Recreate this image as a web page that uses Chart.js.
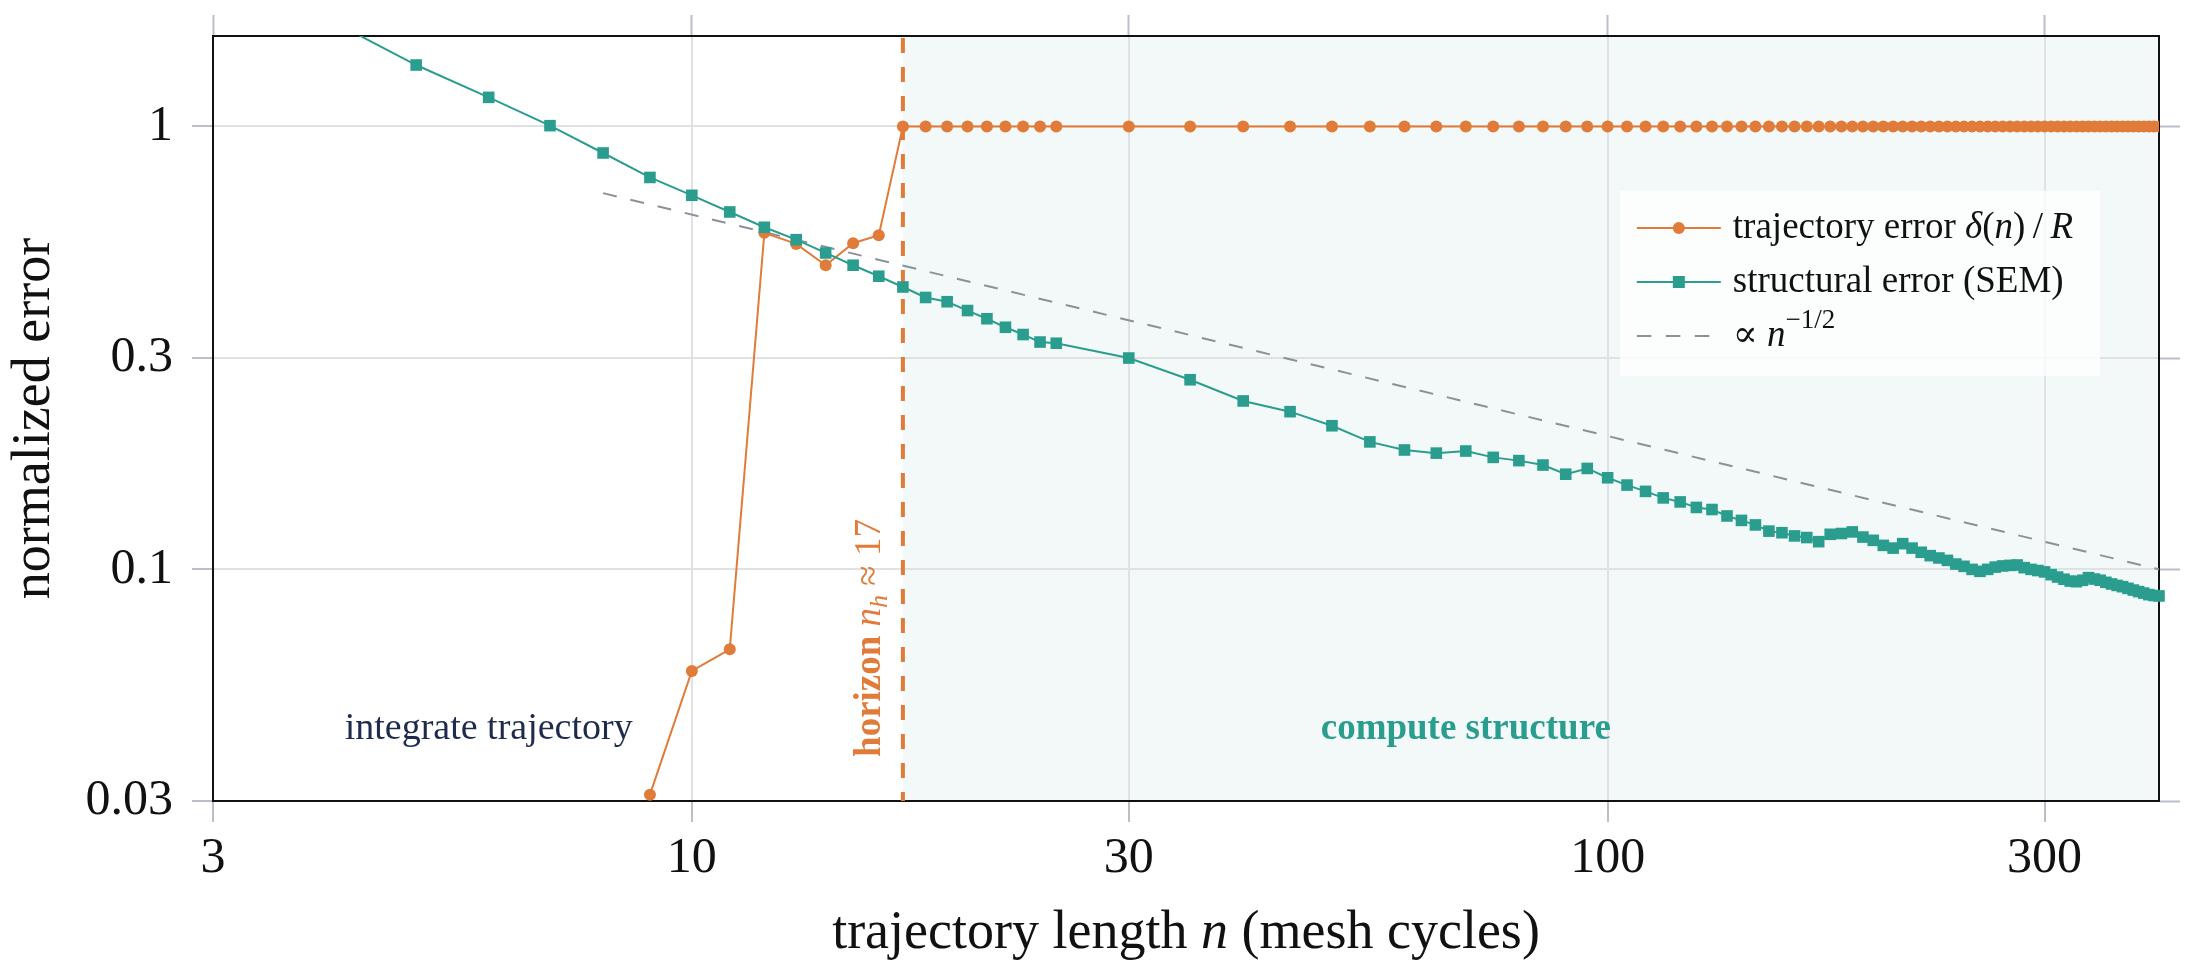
<!DOCTYPE html>
<html>
<head>
<meta charset="utf-8">
<title>trajectory error vs structural error</title>
<script src="https://cdn.jsdelivr.net/npm/chart.js@4.4.1/dist/chart.umd.min.js"></script>
<style>
  html, body { margin: 0; padding: 0; background: #fff; }
  #wrap { position: relative; width: 2195px; height: 976px; }
</style>
</head>
<body>
<div id="wrap"><canvas id="chart"></canvas></div>
<script>
// values
const X_TICKS = [3, 10, 30, 100, 300];
const Y_TICKS = [0.03, 0.1, 0.3, 1];

const TRAJ_N = [9, 10, 11, 12, 13, 14, 15, 16, 17, 18, 19, 20, 21, 22, 23, 24, 25,
    30, 35, 40, 45, 50, 55, 60, 65, 70, 75,
    80, 85, 90, 95, 100, 105, 110, 115, 120, 125,
    130, 135, 140, 145, 150, 155, 160, 165, 170, 175,
    180, 185, 190, 195, 200, 205, 210, 215, 220, 225,
    230, 235, 240, 245, 250, 255, 260, 265, 270, 275,
    280, 285, 290, 295, 300, 305, 310, 315, 320, 325,
    330, 335, 340, 345, 350, 355, 360, 365, 370, 375,
    380, 385, 390, 395, 400];
const TRAJ_ERR = [0.031, 0.059, 0.066, 0.575, 0.543, 0.486, 0.545, 0.568, 1, 1, 1, 1, 1, 1, 1, 1, 1,
    1, 1, 1, 1, 1, 1, 1, 1, 1, 1,
    1, 1, 1, 1, 1, 1, 1, 1, 1, 1,
    1, 1, 1, 1, 1, 1, 1, 1, 1, 1,
    1, 1, 1, 1, 1, 1, 1, 1, 1, 1,
    1, 1, 1, 1, 1, 1, 1, 1, 1, 1,
    1, 1, 1, 1, 1, 1, 1, 1, 1, 1,
    1, 1, 1, 1, 1, 1, 1, 1, 1, 1,
    1, 1, 1, 1, 1];

const SEM_N = [4, 5, 6, 7, 8, 9, 10, 11, 12, 13, 14, 15, 16, 17, 18, 19, 20, 21, 22, 23, 24, 25,
    30, 35, 40, 45, 50, 55, 60, 65, 70, 75,
    80, 85, 90, 95, 100, 105, 110, 115, 120, 125,
    130, 135, 140, 145, 150, 155, 160, 165, 170, 175,
    180, 185, 190, 195, 200, 205, 210, 215, 220, 225,
    230, 235, 240, 245, 250, 255, 260, 265, 270, 275,
    280, 285, 290, 295, 300, 305, 310, 315, 320, 325,
    330, 335, 340, 345, 350, 355, 360, 365, 370, 375,
    380, 385, 390, 395, 400];
const SEM_ERR = [1.75, 1.376, 1.163, 1.004, 0.871, 0.767, 0.699, 0.641, 0.592, 0.555, 0.518,
    0.486, 0.459, 0.434, 0.411, 0.402, 0.384, 0.368, 0.352, 0.339, 0.326, 0.324,
    0.300, 0.268, 0.240, 0.227, 0.211, 0.194, 0.186, 0.183, 0.185, 0.179,
    0.176, 0.172, 0.164, 0.169, 0.161, 0.155, 0.150, 0.145, 0.142, 0.138,
    0.1365, 0.132, 0.129, 0.126, 0.122, 0.121, 0.119, 0.118, 0.1155, 0.120,
    0.1205, 0.1215, 0.1183, 0.1163, 0.1133, 0.1117, 0.1143, 0.1117, 0.1093, 0.1074,
    0.1061, 0.1048, 0.1028, 0.1016, 0.1000, 0.0990, 0.1000, 0.1012, 0.1018, 0.1021,
    0.1023, 0.1009, 0.1000, 0.0994, 0.0987, 0.0973, 0.0961, 0.0950, 0.0941, 0.0938,
    0.0945, 0.0958, 0.0951, 0.0945, 0.0935, 0.0927, 0.0920, 0.0914, 0.0906, 0.0898,
    0.0891, 0.0884, 0.0877, 0.0873, 0.0871];

// guide line ~ n^-1/2, its two ends
const REF_N = [8, 400];
const REF_ERR = [0.707, 0.1];

const HORIZON = 17;

const ORANGE = '#e07b39';
const TEAL = '#2a9d8f';
const GREY = '#8c9099';
const NAVY = '#1f2b4d';
const GRID = '#dfe1e4';
const TICK = '#b9bec7';
const INK = '#111111';
const FONT = '"Liberation Serif", "DejaVu Serif", serif';

const f = (size, style = '', weight = '') => `${style} ${weight} ${size}px ${FONT}`.trim();
const toPoints = (xs, ys) => xs.map((x, i) => ({ x: x, y: ys[i] }));

// draws a run of text pieces with their own fonts, returns total width
function drawRich(ctx, segs, x, y, align) {
    let w = 0;
    segs.forEach(s => { ctx.font = s.f; s.w = ctx.measureText(s.t).width; w += s.w; });
    let cx = align === 'center' ? x - w / 2 : x;
    ctx.textAlign = 'left';
    ctx.textBaseline = 'alphabetic';
    segs.forEach(s => { ctx.font = s.f; ctx.fillText(s.t, cx, y + (s.dy || 0)); cx += s.w; });
    return w;
}

const LEGEND = [
    { color: ORANGE, marker: 'circle', dash: [], segs: [
        { t: 'trajectory error ', f: f(37) }, { t: '\u03B4', f: f(37, 'italic') }, { t: '(', f: f(37) },
        { t: 'n', f: f(37, 'italic') }, { t: ')', f: f(37) }, { t: '\u2009/\u2009', f: f(37) }, { t: 'R', f: f(37, 'italic') }] },
    { color: TEAL, marker: 'rect', dash: [], segs: [{ t: 'structural error (SEM)', f: f(37) }] },
    { color: GREY, marker: null, dash: [14.5, 14.5], segs: [
        { t: '\u221D ', f: f(37) }, { t: 'n', f: f(37, 'italic') }, { t: '\u22121/2', f: f(27), dy: -18 }] }
];

const decorations = {
    id: 'decorations',
    beforeDraw(chart) {
        const { ctx, chartArea: a, scales: { x } } = chart;
        const hx = x.getPixelForValue(HORIZON);
        ctx.save();
        ctx.fillStyle = 'rgba(42,157,143,0.06)';
        ctx.fillRect(hx, a.top, a.right - hx, a.bottom - a.top);
        ctx.restore();
    },
    beforeDatasetsDraw(chart) {
        const { ctx, chartArea: a, scales: { x } } = chart;
        const hx = x.getPixelForValue(HORIZON);
        ctx.save();
        ctx.strokeStyle = ORANGE;
        ctx.lineWidth = 4;
        ctx.setLineDash([15, 14]);
        ctx.beginPath();
        ctx.moveTo(hx, a.top + 2);
        ctx.lineTo(hx, a.bottom);
        ctx.stroke();
        ctx.restore();
    },
    afterDatasetsDraw(chart) {
        const { ctx, scales: { x, y } } = chart;
        const by = y.getPixelForValue(0.0414);
        ctx.save();
        ctx.fillStyle = NAVY;
        drawRich(ctx, [{ t: 'integrate trajectory', f: f(38) }], x.getPixelForValue(6), by, 'center');
        ctx.fillStyle = TEAL;
        drawRich(ctx, [{ t: 'compute structure', f: f(37, '', 'bold') }], x.getPixelForValue(70), by, 'center');

        // rotated horizon label
        ctx.translate(x.getPixelForValue(HORIZON) - 23, y.getPixelForValue(0.07));
        ctx.rotate(-Math.PI / 2);
        ctx.fillStyle = ORANGE;
        drawRich(ctx, [{ t: 'horizon ', f: f(37, '', 'bold') }, { t: 'n', f: f(37, 'italic') },
            { t: 'h', f: f(26, 'italic'), dy: 7 }, { t: ' \u2248 ' + HORIZON, f: f(37) }], 0, 0, 'center');
        ctx.restore();
    },
    afterDraw(chart) {
        const { ctx, chartArea: a } = chart;
        ctx.save();

        // x axis title (italic n)
        ctx.fillStyle = INK;
        drawRich(ctx, [{ t: 'trajectory length ', f: f(54) }, { t: 'n', f: f(54, 'italic') },
            { t: ' (mesh cycles)', f: f(54) }], (a.left + a.right) / 2, chart.height - 28, 'center');

        // legend
        let textW = 0;
        LEGEND.forEach(r => {
            let w = 0;
            r.segs.forEach(s => { ctx.font = s.f; w += ctx.measureText(s.t).width; });
            textW = Math.max(textW, w);
        });
        const padL = 17, lineLen = 84, gap = 12, padR = 27;
        const boxW = padL + lineLen + gap + textW + padR;
        const boxR = a.right - 59, boxT = a.top + 155, boxH = 185;
        const boxL = boxR - boxW;
        ctx.fillStyle = 'rgba(255,255,255,0.8)';
        ctx.fillRect(boxL, boxT, boxW, boxH);

        LEGEND.forEach((r, i) => {
            const ry = boxT + 37 + i * 54;
            const lx = boxL + padL;
            ctx.strokeStyle = r.color;
            ctx.lineWidth = 2;
            ctx.setLineDash(r.dash);
            ctx.beginPath();
            ctx.moveTo(lx, ry);
            ctx.lineTo(lx + lineLen, ry);
            ctx.stroke();
            ctx.setLineDash([]);
            ctx.fillStyle = r.color;
            if (r.marker === 'circle') {
                ctx.beginPath();
                ctx.arc(lx + lineLen / 2, ry, 6, 0, Math.PI * 2);
                ctx.fill();
            } else if (r.marker === 'rect') {
                ctx.fillRect(lx + lineLen / 2 - 6, ry - 6, 12, 12);
            }
            ctx.fillStyle = INK;
            drawRich(ctx, r.segs, lx + lineLen + gap, ry + 10, 'left');
        });
        ctx.restore();
    }
};

const fixedTicks = list => scale => { scale.ticks = list.map(v => ({ value: v })); };
// pin axis sizes so the plot box lands where it does in the figure
const fixH = h => s => { s.height = h; s.paddingLeft = 0; s.paddingRight = 0; };
const fixW = w => s => { s.width = w; s.paddingTop = 0; s.paddingBottom = 0; };

new Chart(document.getElementById('chart'), {
    type: 'line',
    data: {
        datasets: [
            {
                label: 'structural error (SEM)',
                data: toPoints(SEM_N, SEM_ERR),
                borderColor: TEAL,
                backgroundColor: TEAL,
                borderWidth: 2,
                pointStyle: 'rect',
                pointRadius: 8.2,
                pointHoverRadius: 8.2,
                pointBorderWidth: 0,
                tension: 0,
                clip: { left: 0, top: 0, right: 12, bottom: 0 },
                order: 1
            },
            {
                label: 'trajectory error \u03B4(n)/R',
                data: toPoints(TRAJ_N, TRAJ_ERR),
                borderColor: ORANGE,
                backgroundColor: ORANGE,
                borderWidth: 2,
                pointStyle: 'circle',
                pointRadius: 6,
                pointHoverRadius: 6,
                pointBorderWidth: 0,
                tension: 0,
                order: 2
            },
            {
                label: '\u221D n^-1/2',
                data: toPoints(REF_N, REF_ERR),
                borderColor: GREY,
                borderWidth: 2,
                borderDash: [14, 14],
                pointRadius: 0,
                tension: 0,
                order: 3
            }
        ]
    },
    options: {
        responsive: true,
        maintainAspectRatio: false,
        animation: false,
        events: [],
        layout: { padding: 0 },
        plugins: { legend: { display: false }, tooltip: { enabled: false } },
        font: { family: FONT },
        scales: {
            x: {
                type: 'logarithmic',
                position: 'bottom',
                min: 3,
                max: 400,
                afterBuildTicks: fixedTicks(X_TICKS),
                afterFit: fixH(175),
                grid: { color: GRID, lineWidth: 2, tickColor: TICK, tickLength: 21, tickWidth: 2 },
                border: { display: true, color: INK, width: 2 },
                ticks: { color: INK, font: { family: FONT, size: 50 }, padding: 7, autoSkip: false, maxRotation: 0, callback: v => String(v) }
            },
            xTop: {
                type: 'logarithmic',
                position: 'top',
                min: 3,
                max: 400,
                afterBuildTicks: fixedTicks(X_TICKS),
                afterFit: fixH(36),
                grid: { drawOnChartArea: false, tickColor: TICK, tickLength: 21, tickWidth: 2 },
                border: { display: true, color: INK, width: 2 },
                ticks: { display: false }
            },
            y: {
                type: 'logarithmic',
                position: 'left',
                min: 0.03,
                max: 1.6,
                afterBuildTicks: fixedTicks(Y_TICKS),
                afterFit: fixW(213),
                grid: { color: GRID, lineWidth: 2, tickColor: TICK, tickLength: 21, tickWidth: 2 },
                border: { display: true, color: INK, width: 2 },
                ticks: { color: INK, font: { family: FONT, size: 50 }, padding: 19, callback: v => String(v) },
                title: { display: true, text: 'normalized error', color: INK, font: { family: FONT, size: 54 }, padding: { top: 2, bottom: 0 } }
            },
            yRight: {
                type: 'logarithmic',
                position: 'right',
                min: 0.03,
                max: 1.6,
                afterBuildTicks: fixedTicks(Y_TICKS),
                afterFit: fixW(36),
                grid: { drawOnChartArea: false, tickColor: TICK, tickLength: 21, tickWidth: 2 },
                border: { display: true, color: INK, width: 2 },
                ticks: { display: false }
            }
        }
    },
    plugins: [decorations]
});
</script>
</body>
</html>
